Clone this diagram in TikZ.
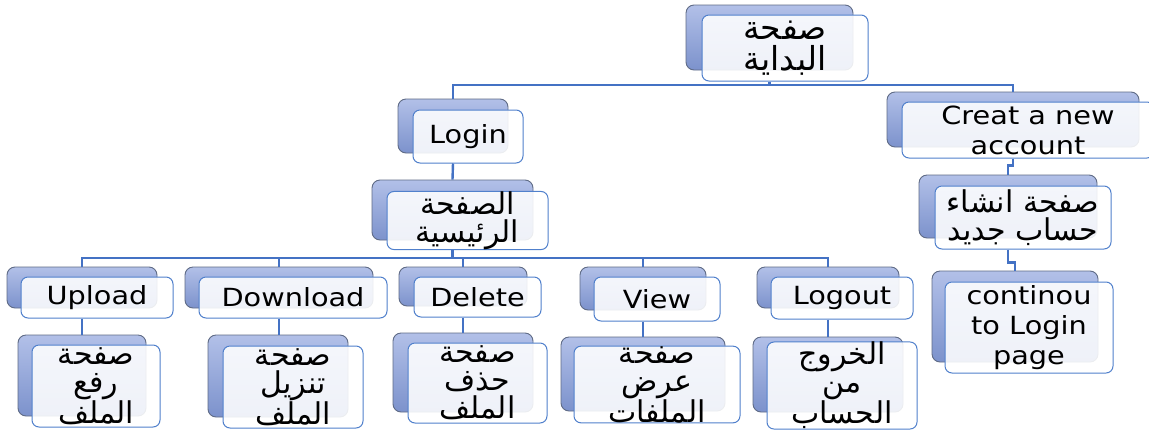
\documentclass[tikz,border=0pt]{standalone}
\usepackage{fontspec}
\TeXXeTstate=1
\newfontfamily\latinfont[FakeStretch=1.15]{DejaVu Sans}
\newfontfamily\arabicfont[Script=Arabic]{DejaVu Sans}
\definecolor{backtop}{HTML}{B2C0E8}
\definecolor{backbot}{HTML}{7C92CC}
\definecolor{backline}{HTML}{5F6B86}
\definecolor{frontline}{HTML}{5080CC}
\definecolor{connline}{HTML}{4472C4}
\newcommand\ar[1]{\beginR #1\endR}
% one box of the chart: name, corners, style, text
\newcommand\boxat[7]{\node[#6, minimum width={#4-#2}, minimum height={#5-#3}] (#1) at ({(#2+#4)/2},{(#3+#5)/2}) {#7};}
\tikzset{
  backbox/.style={draw=backline, line width=0.9pt, rounded corners=8pt, top color=backtop, bottom color=backbot, inner sep=0pt},
  frontbox/.style={draw=frontline, line width=1pt, rounded corners=7pt, fill=white, fill opacity=0.88, text opacity=1, inner sep=0pt, align=center, text=black},
  lat/.style={font=\latinfont\fontsize{25}{30}\selectfont},
  arb/.style={font=\arabicfont\fontsize{30}{28}\selectfont},
  arbbig/.style={font=\arabicfont\fontsize{33}{31}\selectfont},
  conn/.style={draw=connline, line width=2.4pt}
}
\begin{document}
\begin{tikzpicture}[x=1pt,y=-1pt]
\useasboundingbox[fill=white] (0,0) rectangle (1149,432);
% bus levels
\coordinate (bus1) at (0,85);
\coordinate (bus2) at (0,258);

% back plates
\boxat{top-b}{686}{5}{853}{70}{backbox}{}
\boxat{login-b}{398}{99}{508}{153}{backbox}{}
\boxat{main-b}{372}{180}{533}{240}{backbox}{}
\boxat{create-b}{887}{92}{1139}{147}{backbox}{}
\boxat{newacc-b}{919}{175}{1097}{238}{backbox}{}
\boxat{cont-b}{932}{271}{1098}{362}{backbox}{}
\boxat{upload-b}{7}{267}{157}{308}{backbox}{}
\boxat{upc-b}{18}{335}{146}{416}{backbox}{}
\boxat{download-b}{185}{267}{373}{308}{backbox}{}
\boxat{dnc-b}{208}{335}{348}{417}{backbox}{}
\boxat{delete-b}{399}{267}{527}{306}{backbox}{}
\boxat{delc-b}{393}{333}{533}{412}{backbox}{}
\boxat{view-b}{580}{267}{706}{310}{backbox}{}
\boxat{viewc-b}{561}{337}{725}{411}{backbox}{}
\boxat{logout-b}{757}{267}{899}{308}{backbox}{}
\boxat{logc-b}{753}{337}{903}{412}{backbox}{}

% front cards with labels
\boxat{top}{702}{15}{868}{81}{frontbox,arbbig}{\ar{صفحة}\\\ar{البداية}}
\boxat{login}{413}{110}{523}{163}{frontbox,lat}{Login}
\boxat{main}{387}{192}{548}{249}{frontbox,arb}{\ar{الصفحة}\\\ar{الرئيسية}}
\boxat{create}{902}{102}{1154}{158}{frontbox,lat}{Creat a new\\account}
\boxat{newacc}{935}{186}{1111}{249}{frontbox,arb}{\ar{صفحة انشاء}\\\ar{حساب جديد}}
\boxat{cont}{945}{282}{1113}{373}{frontbox,lat}{continou\\to Login\\page}
\boxat{upload}{21}{277}{173}{318}{frontbox,lat}{Upload}
\boxat{upc}{32}{345}{160}{427}{frontbox,arb}{\ar{صفحة}\\\ar{رفع}\\\ar{الملف}}
\boxat{download}{199}{277}{387}{318}{frontbox,lat}{Download}
\boxat{dnc}{223}{346}{363}{428}{frontbox,arb}{\ar{صفحة}\\\ar{تنزيل}\\\ar{الملف}}
\boxat{delete}{414}{277}{541}{317}{frontbox,lat}{Delete}
\boxat{delc}{408}{343}{547}{423}{frontbox,arb}{\ar{صفحة}\\\ar{حذف}\\\ar{الملف}}
\boxat{view}{594}{277}{720}{321}{frontbox,lat}{View}
\boxat{viewc}{574}{348}{740}{421}{frontbox,arb}{\ar{صفحة}\\\ar{عرض}\\\ar{الملفات}}
\boxat{logout}{771}{277}{913}{319}{frontbox,lat}{Logout}
\boxat{logc}{767}{348}{917}{423}{frontbox,arb}{\ar{الخروج}\\\ar{من}\\\ar{الحساب}}

% connectors
\draw[conn] (top-b |- top.south) -- (top-b |- bus1);
\draw[conn] (login-b.north) |- (create-b |- bus1) -- (create-b.north);
\draw[conn] (login-b |- login.south) -- (main-b.north);
\draw[conn] (main-b |- main.south) -- (main-b |- bus2);
\draw[conn] (upload-b.north) |- (logout-b |- bus2) -- (logout-b.north);
\draw[conn] (download-b.north) -- (download-b |- bus2);
\draw[conn] (delete-b.north) -- (delete-b |- bus2);
\draw[conn] (view-b.north) -- (view-b |- bus2);
\draw[conn] (upload-b |- upload.south) -- (upload-b |- upc-b.north);
\draw[conn] (download-b |- download.south) -- (download-b |- dnc-b.north);
\draw[conn] (delete-b |- delete.south) -- (delete-b |- delc-b.north);
\draw[conn] (view-b |- view.south) -- (view-b |- viewc-b.north);
\draw[conn] (logout-b |- logout.south) -- (logout-b |- logc-b.north);
\draw[conn] (create-b |- create.south) -- ++(0,7) -| (newacc-b.north);
\draw[conn] (newacc-b |- newacc.south) -- ++(0,13) -| (cont-b.north);
\end{tikzpicture}
\end{document}
